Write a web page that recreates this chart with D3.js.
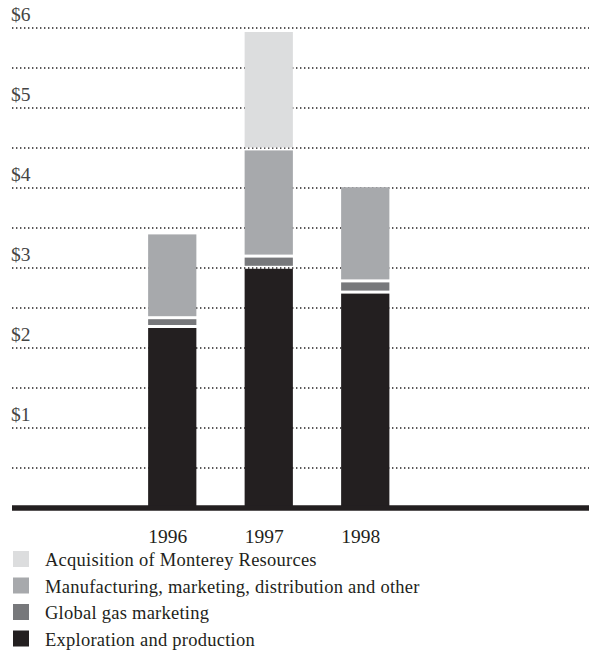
<!DOCTYPE html>
<html>
<head>
<meta charset="utf-8">
<script src="https://cdn.jsdelivr.net/npm/d3@7"></script>
<style>
  html, body { margin: 0; padding: 0; background: #fff; }
  svg { display: block; }
</style>
</head>
<body>
<svg id="chart" width="589" height="655"></svg>
<script>
const years = ["1996", "1997", "1998"];
const exploration = [2.25, 2.99, 2.68];
const gasMarketing = [0.11, 0.14, 0.14];
const manufacturing = [1.06, 1.34, 1.19];
const monterey = [0, 1.48, 0];
const yTicks = [0.5, 1, 1.5, 2, 2.5, 3, 3.5, 4, 4.5, 5, 5.5, 6];
const yLabels = [1, 2, 3, 4, 5, 6];

const seriesNames = [
  "Exploration and production",
  "Global gas marketing",
  "Manufacturing, marketing, distribution and other",
  "Acquisition of Monterey Resources"
];
const seriesColors = ["#231f20", "#77787b", "#a7a9ac", "#dcddde"];
const seriesValues = [exploration, gasMarketing, manufacturing, monterey];

const svg = d3.select("#chart");
const font = "'Liberation Serif', 'DejaVu Serif', serif";
const gap = 3;

const x = d3.scaleBand()
    .domain(years)
    .range([124, 413.5])
    .paddingInner(0.5)
    .paddingOuter(0.25);

const y = d3.scaleLinear()
    .domain([0, 6])
    .range([508, 28]);

// dotted gridlines
svg.append("g")
    .selectAll("line")
    .data(yTicks)
    .enter()
    .append("line")
      .attr("x1", 12)
      .attr("x2", 589)
      .attr("y1", (d) => y(d))
      .attr("y2", (d) => y(d))
      .style("stroke", "#231f20")
      .style("stroke-width", 1.4)
      .style("stroke-dasharray", "1.4,2.6");

// $ labels
svg.append("g")
    .selectAll("text")
    .data(yLabels)
    .enter()
    .append("text")
      .attr("x", 11)
      .attr("y", (d) => y(d) - 7)
      .text((d) => "$" + d)
      .style("font-family", font)
      .style("font-size", "19.5px")
      .style("fill", "#444");

// stacked data
const rows = years.map((yr, i) => {
  const row = { year: yr };
  seriesValues.forEach((vals, k) => { row[k] = vals[i]; });
  return row;
});
const stacked = d3.stack().keys([0, 1, 2, 3])(rows);

const layers = svg.append("g")
    .selectAll("g.layer")
    .data(stacked)
    .enter()
    .append("g")
      .attr("class", "layer")
      .style("fill", (d, i) => seriesColors[i]);

layers.selectAll("rect")
    .data((d) => d.map((p) => ({ key: d.key, p: p })))
    .enter()
    .filter((d) => d.p[1] - d.p[0] > 0)
    .append("rect")
      .attr("x", (d) => x(d.p.data.year))
      .attr("width", x.bandwidth())
      .attr("y", (d) => y(d.p[1]))
      .attr("height", (d) => y(d.p[0]) - y(d.p[1]) - (d.key > 0 ? gap : 0));

// baseline
svg.append("line")
    .attr("x1", 12)
    .attr("x2", 589)
    .attr("y1", y(0))
    .attr("y2", y(0))
    .style("stroke", "#231f20")
    .style("stroke-width", 5.5);

// year labels
svg.append("g")
    .selectAll("text")
    .data(years)
    .enter()
    .append("text")
      .attr("x", (d) => x(d))
      .attr("y", 543)
      .text((d) => d)
      .style("font-family", font)
      .style("font-size", "19.5px")
      .style("fill", "#231f20");

// legend
const legendOrder = [3, 2, 1, 0];
const legend = svg.append("g")
    .selectAll("g.legend")
    .data(legendOrder)
    .enter()
    .append("g")
      .attr("class", "legend")
      .attr("transform", (d, i) => "translate(13," + (551 + i * 26.5) + ")");

legend.append("rect")
    .attr("width", 16)
    .attr("height", 16)
    .style("fill", (d) => seriesColors[d]);

legend.append("text")
    .attr("x", 32)
    .attr("y", 15)
    .text((d) => seriesNames[d])
    .style("font-family", font)
    .style("font-size", "18.5px")
    .style("letter-spacing", "0.25px")
    .style("fill", "#231f20");
</script>
</body>
</html>
